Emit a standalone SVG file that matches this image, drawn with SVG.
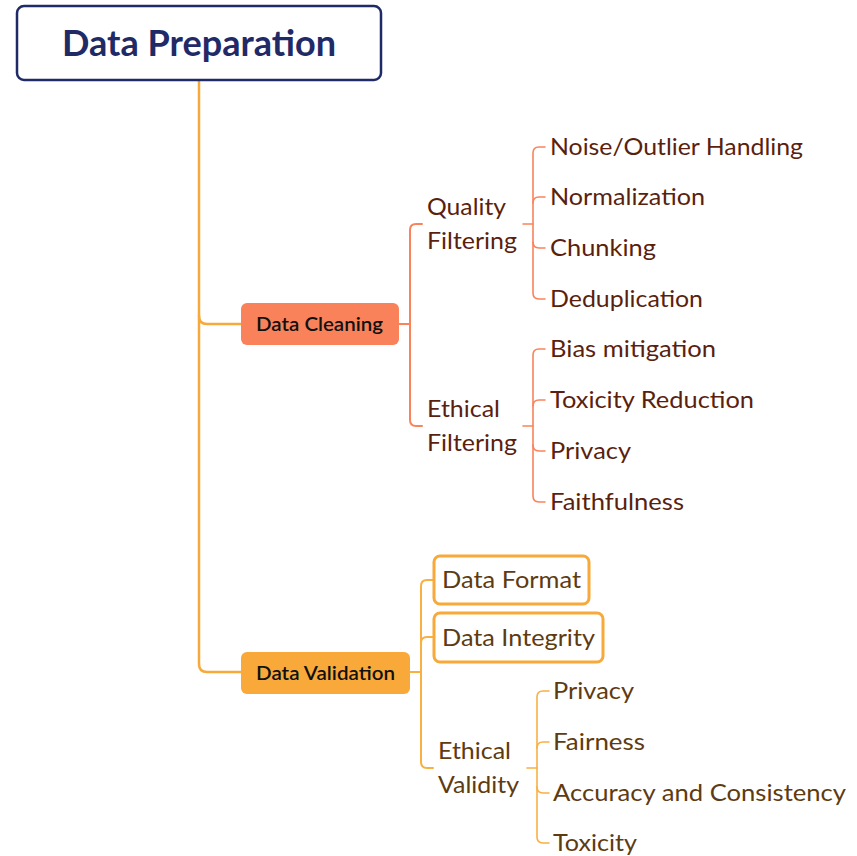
<svg xmlns="http://www.w3.org/2000/svg" width="857" height="856" viewBox="0 0 857 856">
  <style>
    .conn { fill: none; stroke-linecap: round; stroke-linejoin: round; }
    .trunk { stroke: #f7a93a; stroke-width: 2.5; }
    .clean { stroke: #f9845b; stroke-width: 2; }
    .valid { stroke: #f9b043; stroke-width: 2; }
    .leafc { stroke: #f9845b; stroke-width: 1.6; }
    .leafv { stroke: #f9b043; stroke-width: 1.6; }
    text { font-family: "Lato", "Open Sans", sans-serif; }
    .root { font-size: 36px; font-weight: 700; fill: #1f2a66; }
    .main { font-size: 19px; font-weight: 600; fill: #111111; }
    .sub-c { font-size: 23px; fill: #5b1f0f; }
    .sub-v { font-size: 23px; fill: #5e3b10; }
  </style>

  <rect width="857" height="856" fill="#ffffff"/>

  <g id="connectors">
    <!-- trunk from the root -->
    <path class="conn trunk" d="M199,80 V664 Q199,672 207,672 H241"/>
    <path class="conn trunk" d="M199,316 Q199,324 207,324 H241"/>

    <!-- Data Cleaning branches -->
    <path class="conn clean" d="M399,324 H410"/>
    <path class="conn clean" d="M422,224 H416 Q410,224 410,230 V420 Q410,426 416,426 H422"/>

    <!-- Quality Filtering leaves -->
    <path class="conn leafc" d="M523,224 H533"/>
    <path class="conn leafc" d="M545,147 H539 Q533,147 533,153 V293 Q533,299 539,299 H545"/>
    <path class="conn leafc" d="M533,203 Q533,197 539,197 H545"/>
    <path class="conn leafc" d="M533,242 Q533,248 539,248 H545"/>

    <!-- Ethical Filtering leaves -->
    <path class="conn leafc" d="M523,426 H533"/>
    <path class="conn leafc" d="M545,349 H539 Q533,349 533,355 V496 Q533,502 539,502 H545"/>
    <path class="conn leafc" d="M533,406 Q533,400 539,400 H545"/>
    <path class="conn leafc" d="M533,445 Q533,451 539,451 H545"/>

    <!-- Data Validation branches -->
    <path class="conn valid" d="M410,672 H421"/>
    <path class="conn valid" d="M433,580 H427 Q421,580 421,586 V762 Q421,768 427,768 H433"/>
    <path class="conn valid" d="M421,643 Q421,637 427,637 H433"/>

    <!-- Ethical Validity leaves -->
    <path class="conn leafv" d="M527,768 H537"/>
    <path class="conn leafv" d="M549,691 H543 Q537,691 537,697 V837 Q537,843 543,843 H549"/>
    <path class="conn leafv" d="M537,748 Q537,742 543,742 H549"/>
    <path class="conn leafv" d="M537,787 Q537,793 543,793 H549"/>
  </g>

  <g id="root">
    <rect x="17" y="6" width="364" height="74" rx="7" fill="#ffffff" stroke="#1f2a66" stroke-width="2.5"/>
    <text class="root" x="62" y="56" textLength="274" lengthAdjust="spacingAndGlyphs">Data Preparation</text>
  </g>

  <g id="data-cleaning">
    <rect x="241" y="303" width="158" height="42" rx="6" fill="#f9825a"/>
    <text class="main" x="256" y="331" textLength="127" lengthAdjust="spacingAndGlyphs">Data Cleaning</text>
  </g>

  <g id="data-validation">
    <rect x="241" y="652" width="169" height="42" rx="6" fill="#f8a93a"/>
    <text class="main" x="256" y="680" textLength="139" lengthAdjust="spacingAndGlyphs">Data Validation</text>
  </g>

  <g id="quality-filtering">
    <text class="sub-c" x="427" y="215" textLength="79" lengthAdjust="spacingAndGlyphs">Quality</text>
    <text class="sub-c" x="427" y="249" textLength="90" lengthAdjust="spacingAndGlyphs">Filtering</text>
  </g>
  <g id="noise-outlier"><text class="sub-c" x="550" y="155" textLength="253" lengthAdjust="spacingAndGlyphs">Noise/Outlier Handling</text></g>
  <g id="normalization"><text class="sub-c" x="550" y="205" textLength="155" lengthAdjust="spacingAndGlyphs">Normalization</text></g>
  <g id="chunking"><text class="sub-c" x="550" y="256" textLength="106" lengthAdjust="spacingAndGlyphs">Chunking</text></g>
  <g id="deduplication"><text class="sub-c" x="550" y="307" textLength="153" lengthAdjust="spacingAndGlyphs">Deduplication</text></g>

  <g id="ethical-filtering">
    <text class="sub-c" x="427" y="417" textLength="73" lengthAdjust="spacingAndGlyphs">Ethical</text>
    <text class="sub-c" x="427" y="451" textLength="90" lengthAdjust="spacingAndGlyphs">Filtering</text>
  </g>
  <g id="bias-mitigation"><text class="sub-c" x="550" y="357" textLength="166" lengthAdjust="spacingAndGlyphs">Bias mitigation</text></g>
  <g id="toxicity-reduction"><text class="sub-c" x="550" y="408" textLength="204" lengthAdjust="spacingAndGlyphs">Toxicity Reduction</text></g>
  <g id="privacy-filter"><text class="sub-c" x="550" y="459" textLength="81" lengthAdjust="spacingAndGlyphs">Privacy</text></g>
  <g id="faithfulness"><text class="sub-c" x="550" y="510" textLength="134" lengthAdjust="spacingAndGlyphs">Faithfulness</text></g>

  <g id="data-format">
    <rect x="434" y="556" width="155" height="48" rx="6" fill="#ffffff" stroke="#f8a93a" stroke-width="3"/>
    <text class="sub-v" x="442" y="588" textLength="139" lengthAdjust="spacingAndGlyphs">Data Format</text>
  </g>
  <g id="data-integrity">
    <rect x="434" y="613" width="169" height="49" rx="6" fill="#ffffff" stroke="#f8a93a" stroke-width="3"/>
    <text class="sub-v" x="442" y="646" textLength="153" lengthAdjust="spacingAndGlyphs">Data Integrity</text>
  </g>

  <g id="ethical-validity">
    <text class="sub-v" x="438" y="759" textLength="73" lengthAdjust="spacingAndGlyphs">Ethical</text>
    <text class="sub-v" x="438" y="793" textLength="81" lengthAdjust="spacingAndGlyphs">Validity</text>
  </g>
  <g id="privacy-valid"><text class="sub-v" x="553" y="699" textLength="81" lengthAdjust="spacingAndGlyphs">Privacy</text></g>
  <g id="fairness"><text class="sub-v" x="553" y="750" textLength="92" lengthAdjust="spacingAndGlyphs">Fairness</text></g>
  <g id="accuracy-consistency"><text class="sub-v" x="553" y="801" textLength="293" lengthAdjust="spacingAndGlyphs">Accuracy and Consistency</text></g>
  <g id="toxicity"><text class="sub-v" x="553" y="851" textLength="84" lengthAdjust="spacingAndGlyphs">Toxicity</text></g>
</svg>
